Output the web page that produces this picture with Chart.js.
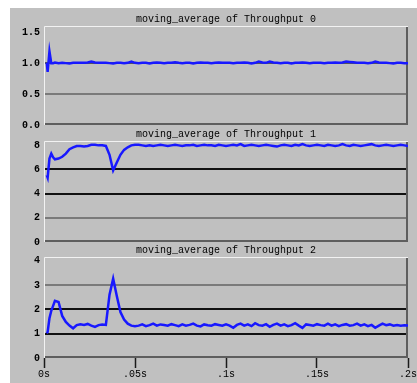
<!DOCTYPE html>
<html>
<head>
<meta charset="utf-8">
<script src="https://cdn.jsdelivr.net/npm/chart.js@4"></script>
<style>
  html, body { margin: 0; padding: 0; background: #fff; overflow: hidden; width: 417px; height: 383px; }
  #bg { position: absolute; left: 10px; top: 8px; width: 407px; height: 375px; background: #c0c0c0; }
  canvas { position: absolute; left: 10px; }
</style>
</head>
<body>
<div id="bg"></div>
<canvas id="c0" width="407" height="120" style="top:8px"></canvas>
<canvas id="c1" width="407" height="122" style="top:123px"></canvas>
<canvas id="c2" width="407" height="144" style="top:239px"></canvas>
<script>
// sample times (s)
const times = [
  0.0015, 0.002, 0.003, 0.004, 0.005, 0.006,
  0.008, 0.010, 0.012, 0.014, 0.016, 0.018, 0.020, 0.022, 0.024, 0.026, 0.028,
  0.030, 0.032, 0.034, 0.036, 0.038, 0.040, 0.042, 0.044, 0.046, 0.048, 0.050,
  0.052, 0.054, 0.056, 0.058, 0.060, 0.062, 0.064, 0.066, 0.068, 0.070,
  0.072, 0.074, 0.076, 0.078, 0.080, 0.082, 0.084, 0.086, 0.088, 0.090,
  0.092, 0.094, 0.096, 0.098, 0.100,
  0.102, 0.104, 0.106, 0.108, 0.110, 0.112, 0.114, 0.116, 0.118, 0.120,
  0.122, 0.124, 0.126, 0.128, 0.130, 0.132, 0.134, 0.136, 0.138, 0.140,
  0.142, 0.144, 0.146, 0.148, 0.150,
  0.152, 0.154, 0.156, 0.158, 0.160, 0.162, 0.164, 0.166, 0.168, 0.170,
  0.172, 0.174, 0.176, 0.178, 0.180, 0.182, 0.184, 0.186, 0.188, 0.190,
  0.192, 0.194, 0.196, 0.198, 0.200
];

const throughput0 = [
  1.01, 0.86, 1.19, 1.0, 1.0, 1.01,
  1.0, 1.005, 1.0, 0.995, 1.005, 1.005, 1.005, 1.005, 1.01, 1.025, 1.01,
  1.005, 1.005, 1.005, 1.0, 0.995, 1.005, 1.005, 1.0, 1.005, 1.025, 1.005,
  1.0, 1.005, 1.005, 0.995, 1.005, 1.01, 1.005, 1.0, 1.005, 1.005,
  1.015, 1.005, 1.0, 1.005, 1.005, 0.995, 1.005, 1.01, 1.005, 1.005,
  1.0, 1.005, 1.01, 1.005, 1.005,
  1.005, 1.0, 1.005, 1.005, 1.01, 1.005, 0.995, 1.005, 1.025, 1.01,
  1.005, 1.025, 1.01, 1.005, 1.0, 1.005, 1.005, 0.995, 1.005, 1.005,
  1.01, 1.005, 1.0, 1.005, 1.005,
  1.005, 1.0, 1.005, 1.005, 1.01, 1.005, 1.01, 1.025, 1.02, 1.015,
  1.005, 1.005, 1.005, 1.0, 1.005, 1.025, 1.01, 1.005, 1.005, 1.0,
  0.995, 1.005, 1.005, 1.0, 1.0
];

const throughput1 = [
  5.52, 5.31, 6.88, 7.29, 6.98, 6.82,
  6.88, 7.03, 7.29, 7.66, 7.81, 7.92, 7.92, 7.87, 7.92, 8.02, 8.02,
  7.97, 7.97, 7.92, 7.19, 5.9, 6.56, 7.19, 7.6, 7.81, 7.97, 8.02,
  8.02, 7.97, 7.92, 7.97, 7.92, 7.97, 8.02, 7.97, 7.92, 7.97,
  8.02, 7.97, 7.92, 7.97, 7.97, 8.02, 7.92, 7.97, 8.02, 7.97,
  7.97, 7.92, 8.02, 7.97, 7.92,
  7.97, 8.02, 7.97, 8.07, 7.92, 7.97, 8.02, 7.97, 7.92, 7.97,
  8.02, 7.97, 7.92, 7.87, 7.97, 8.02, 7.97, 7.92, 8.02, 7.97,
  8.07, 7.97, 7.92, 7.97, 8.02,
  7.97, 7.92, 8.02, 7.97, 7.92, 7.97, 8.07, 7.97, 7.92, 8.02,
  7.97, 7.92, 7.97, 8.02, 8.07, 7.97, 7.92, 7.97, 8.02, 7.97,
  7.92, 7.97, 8.02, 7.97, 7.92
];

const throughput2 = [
  1.02, 1.07, 1.63, 1.94, 2.14, 2.35,
  2.3, 1.73, 1.48, 1.33, 1.22, 1.35, 1.39, 1.36, 1.4, 1.33, 1.28,
  1.35, 1.38, 1.36, 2.6, 3.26, 2.55, 1.89, 1.58, 1.41, 1.33, 1.31,
  1.33, 1.38, 1.31, 1.35, 1.41, 1.33, 1.38, 1.36, 1.33, 1.39,
  1.35, 1.31, 1.38, 1.33, 1.36, 1.41, 1.33, 1.3, 1.38, 1.35,
  1.33, 1.39, 1.36, 1.33, 1.38,
  1.33, 1.24, 1.36, 1.41, 1.33, 1.38, 1.31, 1.43, 1.35, 1.33,
  1.39, 1.28, 1.36, 1.41, 1.33, 1.38, 1.31, 1.35, 1.43, 1.33,
  1.24, 1.38, 1.36, 1.33, 1.39,
  1.35, 1.33, 1.41, 1.33, 1.38, 1.31, 1.36, 1.39, 1.33, 1.35,
  1.41, 1.33, 1.38, 1.31, 1.36, 1.24, 1.33, 1.41, 1.35, 1.38,
  1.33, 1.36, 1.33, 1.35, 1.33
];

const titles = [
  'moving_average of Throughput 0',
  'moving_average of Throughput 1',
  'moving_average of Throughput 2'
];

const yTicks0 = [0, 0.5, 1.0, 1.5];
const yLabels0 = ['0.0', '0.5', '1.0', '1.5'];
const yMax0 = 1.6;
const yTicks1 = [0, 2, 4, 6, 8];
const yLabels1 = ['0', '2', '4', '6', '8'];
const yMax1 = 8.33;
const yTicks2 = [0, 1, 2, 3, 4];
const yLabels2 = ['0', '1', '2', '3', '4'];
const yMax2 = 4.15;

const xTicks = [0, 0.05, 0.1, 0.15, 0.2];
const xLabels = ['0s', '.05s', '.1s', '.15s', '.2s'];

const NONE = 'rgba(0,0,0,0)';
const GRAY = '#7a7a7a';
const DARK = '#111';
const MONO = '"Liberation Mono", "DejaVu Sans Mono", monospace';

// bevelled frame round the plot area
const framePlugin = {
  id: 'frame',
  beforeDatasetsDraw(chart) {
    const { ctx, chartArea: a } = chart;
    ctx.save();
    ctx.lineWidth = 1;
    ctx.strokeStyle = '#f2f2f2';
    ctx.beginPath();
    ctx.moveTo(a.left + 0.5, a.bottom);
    ctx.lineTo(a.left + 0.5, a.top + 0.5);
    ctx.lineTo(a.right, a.top + 0.5);
    ctx.stroke();
    ctx.lineWidth = 2;
    ctx.strokeStyle = '#5e5e5e';
    ctx.beginPath();
    ctx.moveTo(a.left + 1, a.bottom - 1);
    ctx.lineTo(a.right - 1, a.bottom - 1);
    ctx.lineTo(a.right - 1, a.top + 1);
    ctx.stroke();
    ctx.restore();
  }
};

// title centred over the plot area
const titlePlugin = {
  id: 'panelTitle',
  afterDraw(chart, args, opts) {
    const { ctx, chartArea: a } = chart;
    ctx.save();
    ctx.font = '10px ' + MONO;
    ctx.fillStyle = '#000';
    ctx.textAlign = 'center';
    ctx.textBaseline = 'middle';
    ctx.fillText(opts.text, (a.left + a.right) / 2, a.top - 7);
    ctx.restore();
  }
};

function makeChart(id, values, title, yTicks, yLabels, yMax, lineColors, showX) {
  return new Chart(document.getElementById(id), {
    type: 'line',
    data: {
      labels: times,
      datasets: [{
        data: values,
        borderColor: '#1818ff',
        borderWidth: 2.5,
        pointRadius: 0,
        tension: 0,
        fill: false
      }]
    },
    options: {
      responsive: false,
      animation: false,
      events: [],
      layout: { padding: { top: 18, right: 9, bottom: 3, left: 0 } },
      plugins: {
        legend: { display: false },
        tooltip: { enabled: false },
        panelTitle: { text: title }
      },
      scales: {
        x: {
          type: 'linear',
          min: 0,
          max: 0.2,
          display: showX,
          afterBuildTicks: s => { s.ticks = xTicks.map(v => ({ value: v })); },
          afterFit: s => { s.paddingLeft = 0; s.paddingRight = 0; },
          grid: {
            drawOnChartArea: false,
            drawTicks: true,
            tickLength: 10,
            tickWidth: 1.5,
            tickColor: '#1a1a1a',
            color: '#1a1a1a'
          },
          border: { display: false },
          ticks: {
            autoSkip: false,
            maxRotation: 0,
            padding: 0,
            color: '#000',
            font: { family: MONO, size: 10 },
            callback: (v, i) => xLabels[i]
          }
        },
        y: {
          min: yTicks[0],
          max: yMax,
          afterBuildTicks: s => { s.ticks = yTicks.map(v => ({ value: v })); },
          afterFit: s => { s.width = 34; s.paddingTop = 0; s.paddingBottom = 0; },
          grid: {
            drawTicks: false,
            lineWidth: 2,
            color: c => lineColors[c.index] || NONE
          },
          border: { display: false },
          ticks: {
            padding: 4,
            color: '#000',
            font: { family: MONO, size: 10, weight: 'bold' },
            callback: (v, i) => yLabels[i]
          }
        }
      }
    },
    plugins: [framePlugin, titlePlugin]
  });
}

makeChart('c0', throughput0, titles[0], yTicks0, yLabels0, yMax0, [NONE, GRAY, '#555', NONE], false);
makeChart('c1', throughput1, titles[1], yTicks1, yLabels1, yMax1, [NONE, GRAY, DARK, DARK, NONE], false);
makeChart('c2', throughput2, titles[2], yTicks2, yLabels2, yMax2, [NONE, DARK, DARK, GRAY, NONE], true);
</script>
</body>
</html>
